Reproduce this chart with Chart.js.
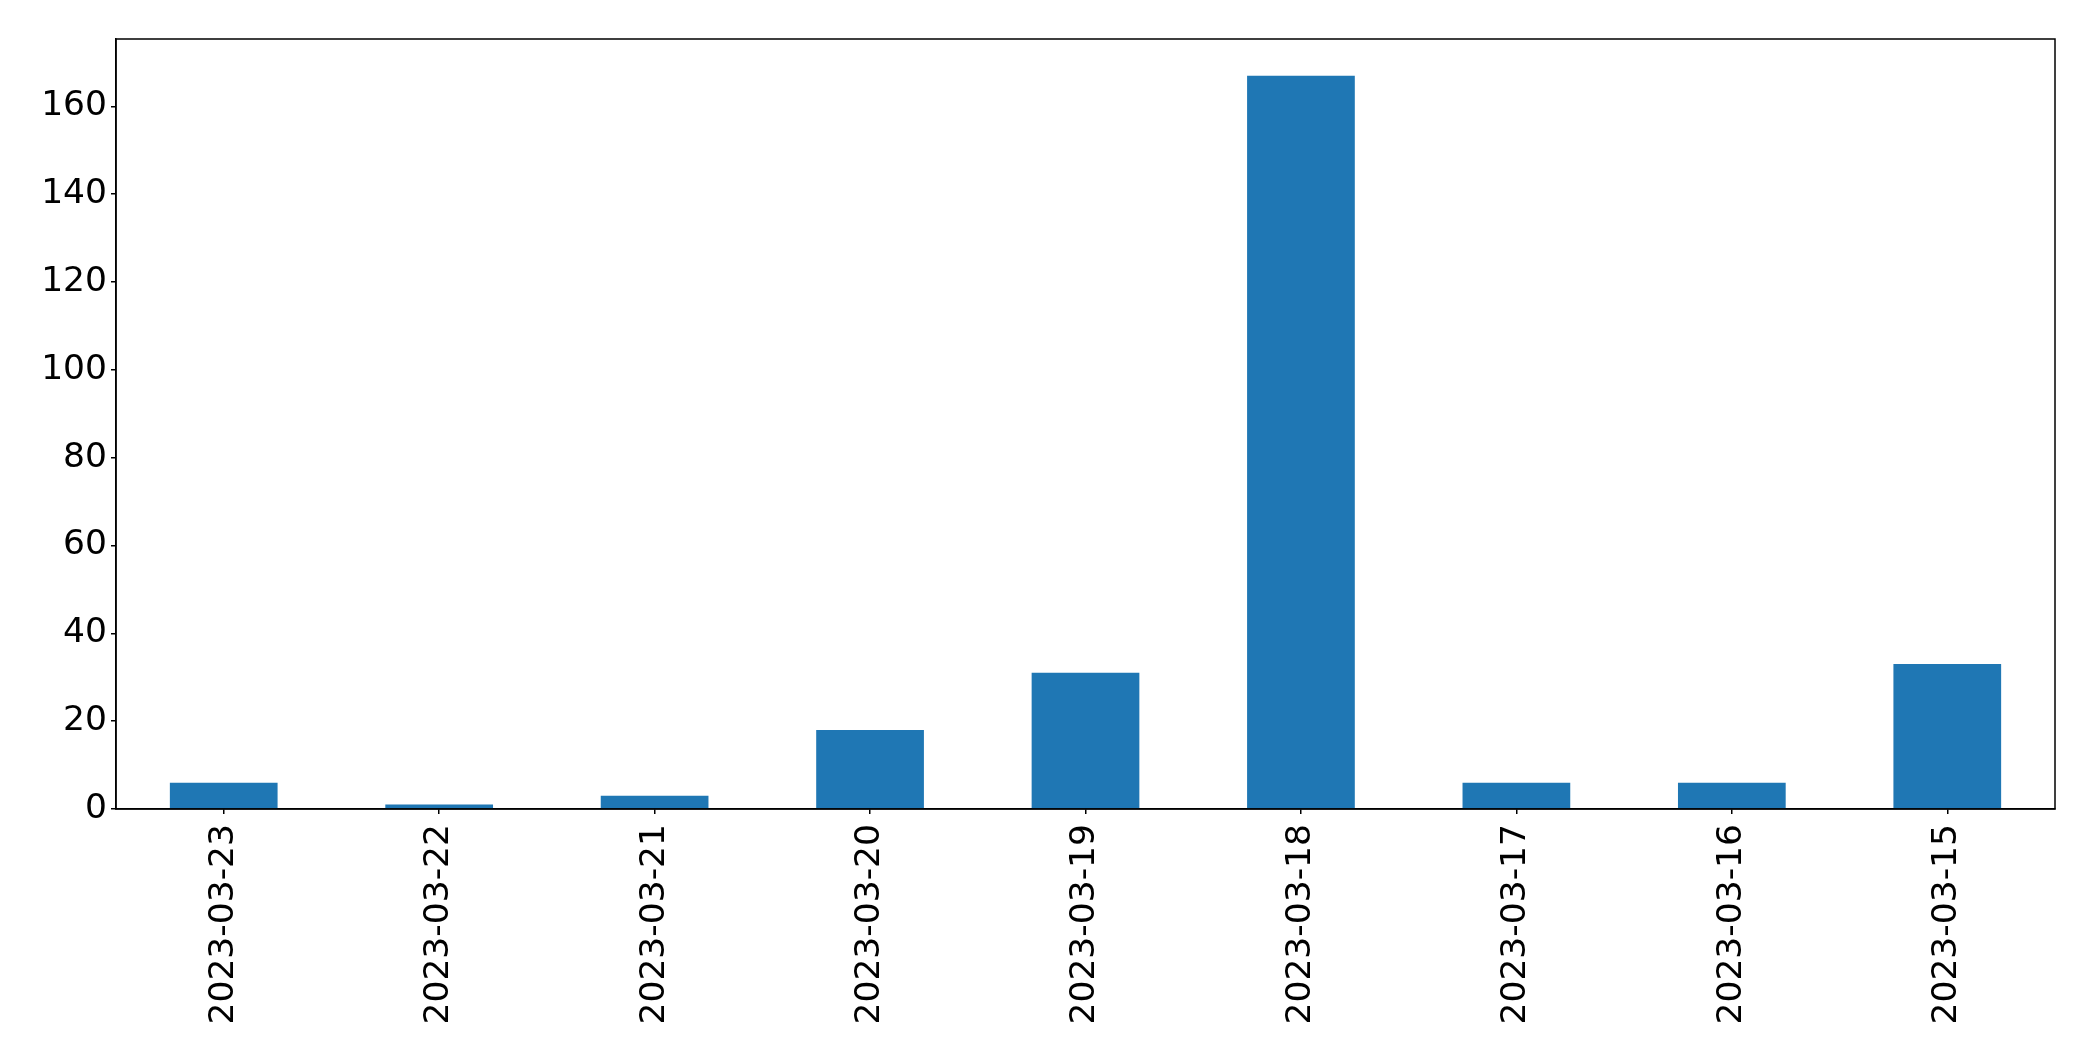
<!DOCTYPE html>
<html>
<head>
<meta charset="utf-8">
<script src="https://cdn.jsdelivr.net/npm/chart.js@4.4.1/dist/chart.umd.min.js"></script>
<style>
html,body{margin:0;padding:0;background:#fff;}
#wrap{width:2093px;height:1061px;}
</style>
</head>
<body>
<div id="wrap"><canvas id="c" width="2093" height="1061"></canvas></div>
<script>
const categories = ["2023-03-23","2023-03-22","2023-03-21","2023-03-20","2023-03-19","2023-03-18","2023-03-17","2023-03-16","2023-03-15"];
const counts = [6, 1, 3, 18, 31, 167, 6, 6, 33];
const yTickStep = 20;

const frame = {
  id: 'frame',
  afterDraw(chart) {
    const a = chart.chartArea, ctx = chart.ctx;
    ctx.save();
    ctx.strokeStyle = '#000';
    ctx.lineWidth = 1.5;
    ctx.strokeRect(a.left, a.top, a.right - a.left, a.bottom - a.top);
    ctx.restore();
  }
};

const font = {family: '"DejaVu Sans", sans-serif', size: 34.5};

new Chart(document.getElementById('c'), {
  type: 'bar',
  data: {
    labels: categories,
    datasets: [{
      data: counts,
      backgroundColor: '#1f77b4',
      borderWidth: 0,
      barPercentage: 0.5,
      categoryPercentage: 1.0
    }]
  },
  options: {
    responsive: false,
    animation: false,
    layout: {padding: {top: 39, right: 38, left: 0, bottom: 0}},
    plugins: {legend: {display: false}, tooltip: {enabled: false}},
    scales: {
      x: {
        grid: {display: true, offset: false, drawOnChartArea: false, drawTicks: true, tickLength: 5, color: '#000', lineWidth: 1.5},
        border: {display: true, color: '#000', width: 1.5},
        ticks: {color: '#000', font: font, minRotation: 90, maxRotation: 90, padding: 10, autoSkip: false},
        afterFit(s) { s.height = 252; }
      },
      y: {
        min: 0,
        max: Math.max(...counts) * 1.05,
        grid: {display: true, drawOnChartArea: false, drawTicks: true, tickLength: 5, color: '#000', lineWidth: 1.5},
        border: {display: true, color: '#000', width: 1.5},
        ticks: {color: '#000', font: font, stepSize: yTickStep, padding: 4},
        afterBuildTicks(s) { s.ticks = s.ticks.filter(t => t.value % yTickStep === 0); },
        afterFit(s) { s.width = 116; }
      }
    }
  },
  plugins: [frame]
});
</script>
</body>
</html>
